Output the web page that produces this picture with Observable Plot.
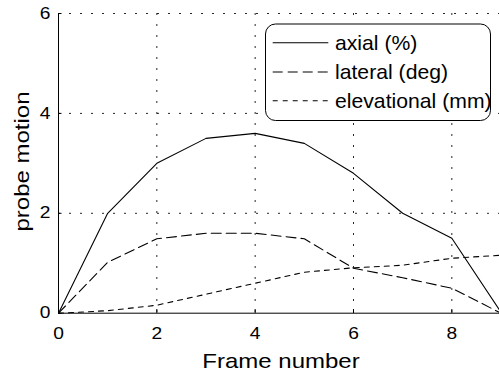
<!DOCTYPE html>
<html>
<head>
<meta charset="utf-8">
<script src="https://cdn.jsdelivr.net/npm/d3@7"></script>
<script src="https://cdn.jsdelivr.net/npm/@observablehq/plot@0.6"></script>
<style>
  body { margin: 0; background: #fff; }
  #wrap { position: relative; width: 499px; height: 374px; overflow: hidden; background: #fff;
          font-family: "Liberation Sans", Arial, Helvetica, sans-serif; }
  #wrap svg { display: block; }
  #legend { position: absolute; left: 0; top: 0; overflow: visible; }
</style>
</head>
<body>
<div id="wrap"></div>
<script>
// ---- data ----
const frames      = [0, 1, 2, 3, 4, 5, 6, 7, 8, 9];
const axial       = [0, 2.0, 3.0, 3.5, 3.6, 3.4, 2.8, 2.0, 1.5, 0.02];
const lateral     = [0, 1.02, 1.49, 1.6, 1.6, 1.49, 0.9, 0.71, 0.5, 0];
const elevational = [0, 0.05, 0.16, 0.38, 0.6, 0.82, 0.91, 0.96, 1.1, 1.16];
const seriesNames = ["axial (%)", "lateral (deg)", "elevational (mm)"];
const xTicks = [0, 2, 4, 6, 8];
const yTicks = [0, 2, 4, 6];
const xLabel = "Frame number";
const yLabel = "probe motion";

const seriesValues = [axial, lateral, elevational];
const dashes = [null, "10,5", "5,5"];
const rows = seriesValues.map(vals => frames.map((f, i) => ({f, v: vals[i]})));

const font = "'Liberation Sans', Arial, Helvetica, sans-serif";

const chart = Plot.plot({
  width: 499,
  height: 374,
  marginLeft: 58,
  marginTop: 13,
  marginBottom: 61,
  marginRight: 0,
  x: {domain: [0, 9], range: [58, 500.5]},
  y: {domain: [0, 6], range: [312.7, 13]},
  style: {fontFamily: font, fontSize: "16px", background: "white", color: "#000", overflow: "hidden"},
  marks: [
    Plot.gridX(xTicks.filter(d => d > 0), {stroke: "#000", strokeOpacity: 0.85, strokeDasharray: "2,9"}),
    Plot.gridY(yTicks.filter(d => d > 0), {stroke: "#000", strokeOpacity: 0.85, strokeDasharray: "2,9"}),
    ...rows.map((r, k) => Plot.line(r, {x: "f", y: "v", stroke: "#000", strokeWidth: 1.1,
      strokeDasharray: dashes[k], strokeLinejoin: "miter"})),
    Plot.ruleX([0], {stroke: "#000", strokeWidth: 1}),
    Plot.ruleY([0], {stroke: "#000", strokeWidth: 1}),
    Plot.tickY(yTicks, {y: d => d, stroke: "#000", insetRight: 437.5}),
    Plot.tickX(xTicks, {x: d => d, stroke: "#000", insetTop: 296}),
    Plot.axisX(xTicks, {tickSize: 0, tickPadding: 14, fontSize: 16, label: null, tickFormat: d => String(d)}),
    Plot.axisY(yTicks, {tickSize: 0, tickPadding: 8, fontSize: 16, label: null, tickFormat: d => String(d)}),
    Plot.text([xLabel], {text: d => d, frameAnchor: "bottom", dy: 47.6, dx: 2, fontSize: 20, lineAnchor: "middle", textAnchor: "middle"}),
    Plot.text([yLabel], {text: d => d, frameAnchor: "left", dx: -36, dy: -2, rotate: -90, fontSize: 20, lineAnchor: "middle", textAnchor: "middle"})
  ]
});

// widen glyphs horizontally along the text direction (reference font is wider than Liberation Sans)
chart.querySelectorAll("text").forEach(t => {
  const s = 1.2;
  const tr = t.getAttribute("transform");
  if (tr) {
    t.setAttribute("transform", tr + ` scale(${s},1)`);
  } else {
    const x = +(t.getAttribute("x") || 0);
    t.setAttribute("transform", `translate(${x},0) scale(${s},1) translate(${-x},0)`);
  }
});

const wrap = document.getElementById("wrap");
wrap.appendChild(chart);

// ---- legend (overlay) ----
const ns = "http://www.w3.org/2000/svg";
const leg = document.createElementNS(ns, "svg");
leg.setAttribute("id", "legend");
leg.setAttribute("width", 499);
leg.setAttribute("height", 374);
const box = document.createElementNS(ns, "rect");
Object.entries({x: 265.5, y: 24, width: 225, height: 96.5, rx: 10, ry: 10, fill: "#fff", stroke: "#000", "stroke-width": 1})
  .forEach(([k, v]) => box.setAttribute(k, v));
leg.appendChild(box);
const rowY = [42.7, 72, 100.7];
seriesNames.forEach((name, k) => {
  const ln = document.createElementNS(ns, "line");
  Object.entries({x1: 272.7, x2: 328.3, y1: rowY[k], y2: rowY[k], stroke: "#000", "stroke-width": 1.1})
    .forEach(([a, v]) => ln.setAttribute(a, v));
  if (dashes[k]) ln.setAttribute("stroke-dasharray", dashes[k]);
  leg.appendChild(ln);
  const tx = document.createElementNS(ns, "text");
  tx.setAttribute("transform", `translate(335,${rowY[k]}) scale(1.06,1)`);
  tx.setAttribute("dy", "0.35em");
  tx.setAttribute("font-size", 20);
  tx.setAttribute("font-family", font);
  tx.setAttribute("fill", "#000");
  tx.textContent = name;
  leg.appendChild(tx);
});
wrap.appendChild(leg);
</script>
</body>
</html>
